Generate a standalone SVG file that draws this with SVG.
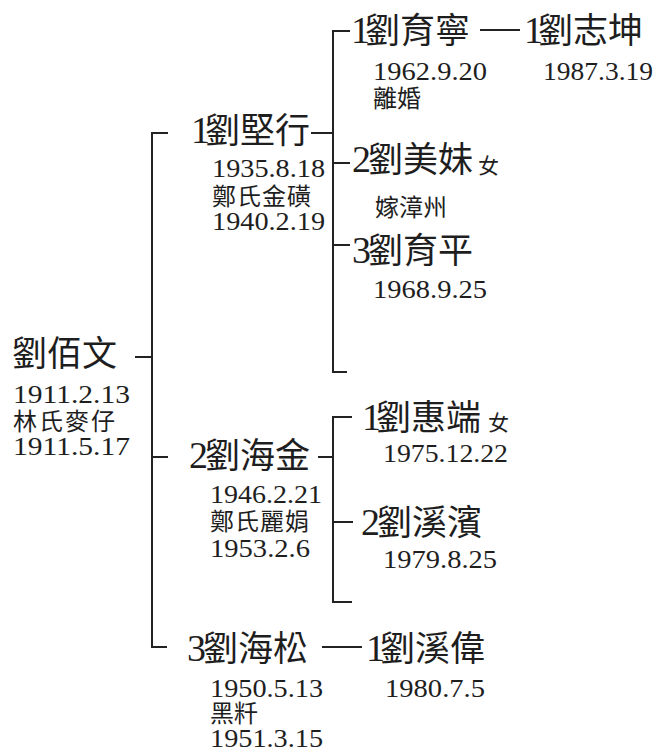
<svg xmlns="http://www.w3.org/2000/svg" width="662" height="753" viewBox="0 0 662 753">
<style>
.n{font-family:"Noto Sans CJK TC","Noto Sans CJK SC",sans-serif;font-size:35px;fill:#1e1e1e}
.g{font-family:"Liberation Serif",serif;font-size:38px;letter-spacing:-5px}
.g2{font-family:"Liberation Serif",serif;font-size:38px;letter-spacing:-3px}
.d{font-family:"Liberation Serif",serif;font-size:25px;fill:#1e1e1e}
.c{font-family:"Noto Sans CJK TC","Noto Sans CJK SC",sans-serif;font-size:24px;fill:#1e1e1e}
.f{font-family:"Noto Sans CJK TC","Noto Sans CJK SC",sans-serif;font-size:21px;fill:#1e1e1e}
.l{fill:none;stroke:#222;stroke-width:2}
</style>
<rect width="662" height="753" fill="#fff"/>
<g id="connectors" class="l">
<path d="M168,133 H152 V647 H167"/>
<path d="M135,357 H152"/>
<path d="M152,457 H168"/>
<path d="M311,133 H332"/>
<path d="M350,31 H333 V372 H347"/>
<path d="M333,163 H350"/>
<path d="M333,245 H350"/>
<path d="M480,30 H520"/>
<path d="M318,457 H333"/>
<path d="M352,417 H333 V602 H352"/>
<path d="M333,522 H353"/>
<path d="M322,647 H362"/>
</g>
<g id="n-liu-baiwen">
<text class="n" x="12" y="366">劉佰文</text>
<text class="d" x="13" y="403" textLength="117" lengthAdjust="spacingAndGlyphs">1911.2.13</text>
<text class="c" x="13" y="430" letter-spacing="2">林氏麥仔</text>
<text class="d" x="13" y="455" textLength="117" lengthAdjust="spacingAndGlyphs">1911.5.17</text>
</g>
<g id="n-liu-jianxing">
<text class="n" x="191" y="143"><tspan class="g">1</tspan>劉堅行</text>
<text class="d" x="212" y="177" textLength="113" lengthAdjust="spacingAndGlyphs">1935.8.18</text>
<text class="c" x="212" y="205" letter-spacing="1">鄭氏金磺</text>
<text class="d" x="212" y="230" textLength="113" lengthAdjust="spacingAndGlyphs">1940.2.19</text>
</g>
<g id="n-liu-yuning">
<text class="n" x="351" y="43"><tspan class="g">1</tspan>劉育寧</text>
<text class="d" x="373" y="80" textLength="114" lengthAdjust="spacingAndGlyphs">1962.9.20</text>
<text class="c" x="373" y="107">離婚</text>
</g>
<g id="n-liu-zhikun">
<text class="n" x="524" y="43"><tspan class="g">1</tspan>劉志坤</text>
<text class="d" x="543" y="80" textLength="110" lengthAdjust="spacingAndGlyphs">1987.3.19</text>
</g>
<g id="n-liu-meimei">
<text class="n" x="352" y="172"><tspan class="g2">2</tspan>劉美妹</text>
<text class="f" x="478" y="173">女</text>
<text class="c" x="375" y="216">嫁漳州</text>
</g>
<g id="n-liu-yuping">
<text class="n" x="352" y="263"><tspan class="g2">3</tspan>劉育平</text>
<text class="d" x="373" y="298" textLength="114" lengthAdjust="spacingAndGlyphs">1968.9.25</text>
</g>
<g id="n-liu-haijin">
<text class="n" x="189" y="468"><tspan class="g2">2</tspan>劉海金</text>
<text class="d" x="210" y="503" textLength="112" lengthAdjust="spacingAndGlyphs">1946.2.21</text>
<text class="c" x="210" y="530" letter-spacing="1">鄭氏麗娟</text>
<text class="d" x="210" y="557" textLength="100" lengthAdjust="spacingAndGlyphs">1953.2.6</text>
</g>
<g id="n-liu-huiduan">
<text class="n" x="362" y="430"><tspan class="g">1</tspan>劉惠端</text>
<text class="f" x="488" y="430">女</text>
<text class="d" x="383" y="462" textLength="125" lengthAdjust="spacingAndGlyphs">1975.12.22</text>
</g>
<g id="n-liu-xibin">
<text class="n" x="361" y="535"><tspan class="g2">2</tspan>劉溪濱</text>
<text class="d" x="383" y="568" textLength="114" lengthAdjust="spacingAndGlyphs">1979.8.25</text>
</g>
<g id="n-liu-haisong">
<text class="n" x="187" y="661"><tspan class="g2">3</tspan>劉海松</text>
<text class="d" x="210" y="697" textLength="113" lengthAdjust="spacingAndGlyphs">1950.5.13</text>
<text class="c" x="210" y="722">黑粁</text>
<text class="d" x="210" y="747" font-size="24" textLength="113" lengthAdjust="spacingAndGlyphs">1951.3.15</text>
</g>
<g id="n-liu-xiwei">
<text class="n" x="366" y="661"><tspan class="g">1</tspan>劉溪偉</text>
<text class="d" x="385" y="697" textLength="100" lengthAdjust="spacingAndGlyphs">1980.7.5</text>
</g>
</svg>
